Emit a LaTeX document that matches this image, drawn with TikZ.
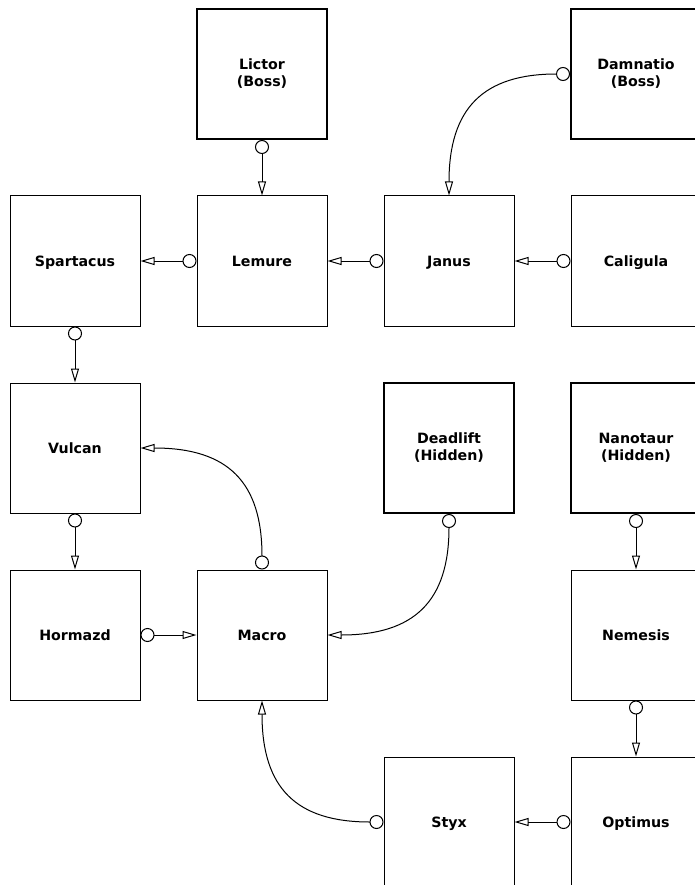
\documentclass[tikz,border=0pt]{standalone}
\usepackage{fontspec}
\setmainfont{DejaVu Sans}
\usetikzlibrary{arrows.meta}

\begin{document}
\begin{tikzpicture}[x = 1pt, y = -1pt,
  room/.style = {draw, line width = 1pt, minimum size = 130pt, inner sep = 0pt, align = center, font = \fontsize{14.2}{17}\selectfont\bfseries},
  single/.style = {room, text height = 10.4pt, text depth = 0pt},
  boss/.style = {room, line width = 2pt},
  link/.style = {line width = 1pt, looseness = 1.3, {Circle[open, length = 14pt]}-{Triangle[open, length = 14pt, width = 8pt]}}]
\useasboundingbox (0,0) rectangle (695,885);
\foreach \name/\x/\y/\txt in {spartacus/75/261/Spartacus, lemure/262/261/Lemure, janus/449/261/Janus, caligula/636/261/Caligula, vulcan/75/448/Vulcan, hormazd/75/635/Hormazd, macro/262/635/Macro, nemesis/636/635/Nemesis, styx/449/822/Styx, optimus/636/822/Optimus}
\node[single] (\name) at (\x,\y) {\txt};
\node[boss] (lictor) at (262,74) {Lictor\\(Boss)};
\node[boss] (damnatio) at (636,74) {Damnatio\\(Boss)};
\node[boss] (deadlift) at (449,448) {Deadlift\\(Hidden)};
\node[boss] (nanotaur) at (636,448) {Nanotaur\\(Hidden)};
\draw[link] (lictor.south) -- (lemure.north);
\draw[link] (damnatio.west) to[out = 180, in = 90] (janus.north);
\draw[link] (lemure.west) -- (spartacus.east);
\draw[link] (janus.west) -- (lemure.east);
\draw[link] (caligula.west) -- (janus.east);
\draw[link] (spartacus.south) -- (vulcan.north);
\draw[link] (macro.north) to[out = 90, in = 0] (vulcan.east);
\draw[link] (vulcan.south) -- (hormazd.north);
\draw[link] (hormazd.east) -- (macro.west);
\draw[link] (deadlift.south) to[out = -90, in = 0] (macro.east);
\draw[link] (nanotaur.south) -- (nemesis.north);
\draw[link] (nemesis.south) -- (optimus.north);
\draw[link] (optimus.west) -- (styx.east);
\draw[link] (styx.west) to[out = 180, in = -90] (macro.south);
\end{tikzpicture}
\end{document}
